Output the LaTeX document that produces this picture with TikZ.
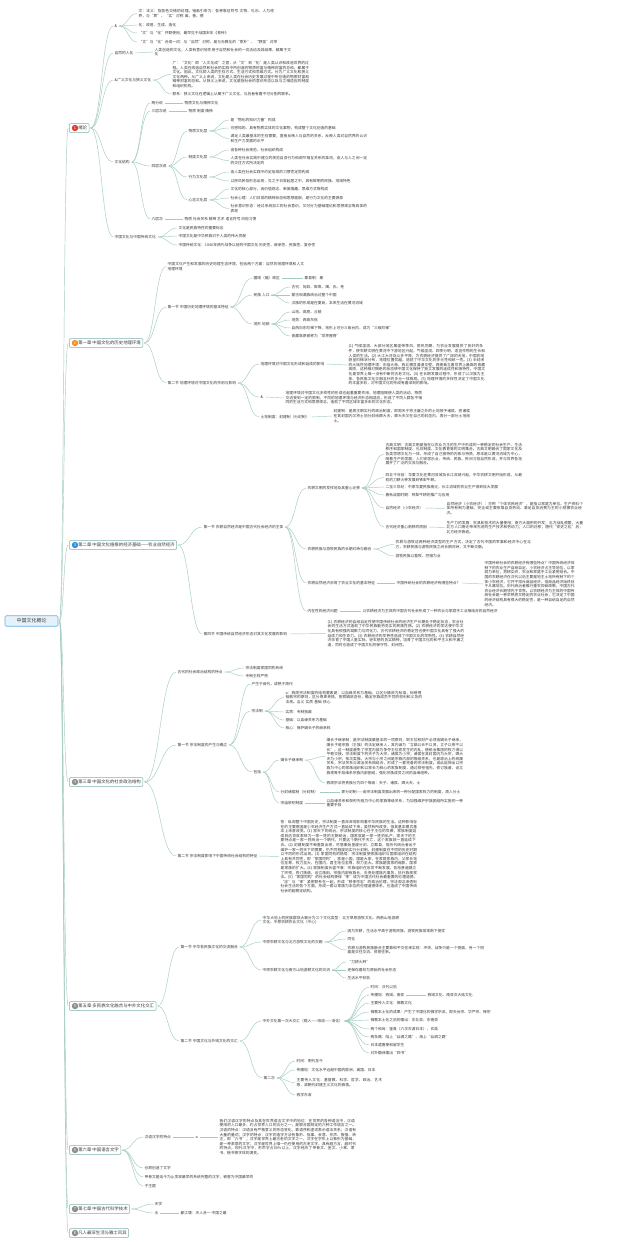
\documentclass[tikz,border=0pt]{standalone}
\usepackage{fontspec}
\setmainfont{Noto Sans CJK SC}
\usetikzlibrary{calc}
\XeTeXlinebreaklocale "zh"
\XeTeXlinebreakskip=0pt plus 0.5pt
\definecolor{txt}{HTML}{3A3A3A}
\definecolor{lnc}{HTML}{A3CBC3}
\definecolor{chb}{HTML}{7FB3AD}
\definecolor{icr}{HTML}{E2392C}
\definecolor{ico}{HTML}{F0902A}
\definecolor{icb}{HTML}{2F8FD8}
\definecolor{icg}{HTML}{8C8C8C}
\tikzset{
 tx/.style={font=\fontsize{3.75}{4.6}\selectfont, text=txt, anchor=west, inner sep=0.5pt},
 pp/.style={tx, text width=#1, align=left},
 pp/.default=137pt,
 ln/.style={draw=lnc, line width=0.45pt, shorten <=1.2pt, shorten >=0.8pt},
 chap/.style={draw=chb, fill=white, rounded corners=1pt, line width=0.55pt, font=\fontsize{4.4}{5}\selectfont, text=txt, anchor=west, inner xsep=2pt, inner ysep=2.3pt},
 ic/.style={circle, fill=#1, text=white, inner sep=0pt, minimum size=6.4pt, font=\fontsize{4}{4}\selectfont},
 rootb/.style={draw=icb!70, fill=icb!12, rounded corners=1.2pt, line width=0.6pt, font=\fontsize{5}{6}\selectfont, text=txt, minimum width=53pt, minimum height=10.5pt, inner sep=1pt}
}
\newcommand\lk[2]{\path ($(#1.east)!0.5!(#2.west)$) coordinate (lkm);
 \draw[ln] (#1.east) .. controls (lkm |- #1.east) and (lkm |- #2.west) .. (#2.west);}
\begin{document}
\begin{tikzpicture}[x=1pt,y=-1pt]
\useasboundingbox[fill=white] (0,0) rectangle (640,1245);

% root
\node[rootb] (r) at (31.5,621) {中国文化概论};

% chapters
\node[chap] (c0) at (69,128) {\hspace*{7pt}绪论};
\node[chap] (c1) at (69,343) {\hspace*{7pt}第一章 中国文化的历史地理环境};
\node[chap] (c2) at (69,545) {\hspace*{7pt}第二章 中国文化植根的经济基础——农业自然经济};
\node[chap] (c3) at (69,782) {\hspace*{7pt}第三章 中国文化的社会政治结构};
\node[chap] (c5) at (69,1006) {\hspace*{7pt}第五章 多民族文化融合与中外文化交汇};
\node[chap] (c6) at (69,1150) {\hspace*{7pt}第六章 中国语言文字};
\node[chap] (c7) at (69,1209) {\hspace*{7pt}第七章 中国古代科学技术};
\node[chap] (c8) at (69,1233) {\hspace*{7pt}凡人最深生活与雅士风异};
\node[ic=icr] (i0) at ($(c0.west)+(6,0)$) {1};
\node[ic=ico] (i1) at ($(c1.west)+(6,0)$) {2};
\node[ic=icb] (i2) at ($(c2.west)+(6,0)$) {3};
\node[ic=icg] (i3) at ($(c3.west)+(6,0)$) {4};
\node[ic=icg] (i5) at ($(c5.west)+(6,0)$) {5};
\node[ic=icg] (i6) at ($(c6.west)+(6,0)$) {6};
\node[ic=icg] (i7) at ($(c7.west)+(6,0)$) {7};
\node[ic=icg] (i8) at ($(c8.west)+(6,0)$) {8};
\foreach \c in {c0,c1,c2,c3,c5,c6,c7,c8} {\lk{r}{\c}}

% ===== 绪论 =====
\node[tx] (a0) at (114,26) {\&};
\node[pp] (a0a) at (138,13.5) {文：本义：指各色交错的纹理。错画引申为：各种象征符号 文物、礼乐、人为修养，与“质”、“实”对称 美、善、德};
\node[tx] (a0b) at (138,25) {化：改易、生成、造化};
\node[tx] (a0c) at (138,33) {“文”与“化”并联使用，最早见于战国末年《易传》};
\node[tx] (a0d) at (138,42) {“文”与“化”合成一词：与“自然”对称，是与无教化的“质朴”、“野蛮”对举};
\node[tx] (a1) at (114,53) {自然的人化};
\node[pp] (a1a) at (154,52) {人类创造的文化，人类有意识地作用于自然和社会的一切活动及其结果，都属于文化};
\node[tx] (a2) at (114,80) {\&广义文化与狭义文化};
\node[pp] (a2a) at (172,74.5) {广：“文化”即“人文化成”之意，从“文”到“化”是人类认识和改造世界的过程。人类在改造自然和社会的实践中所创造的物质财富与精神财富的总和，都属于文化。因此，文化即人类的生存方式、生活方式和思维方式。分为广义文化和狭义文化两种。从广义上来说，文化是人类在社会历史发展过程中所创造的物质财富和精神财富的总和。从狭义上来说，文化是指社会的意识形态以及与之相适应的制度和组织机构。};
\node[tx] (a2b) at (172,94) {联系：狭义文化在逻辑上从属于广义文化，与后者有着不可分割的联系。};
\node[tx] (a3) at (114,162) {文化结构};
\node[tx] (a31) at (151,103) {两分说};
\node[tx] (a31a) at (184,103) {物质文化与精神文化};
\node[tx] (a32) at (151,111) {三层次说};
\node[tx] (a32a) at (188,111) {物质 制度 精神};
\node[tx] (a33) at (151,166) {四层次说};
\node[tx] (a331) at (188,131) {物质文化层};
\node[tx] (a331a) at (230,120) {是“物化的知识力量”构成};
\node[tx] (a331b) at (230,128) {可感知的、具有物质实体的文化事物，构成整个文化创造的基础};
\node[pp] (a331c) at (230,138.5) {满足人类最基本的生存需要，直接反映人与自然的关系，反映人类对自然界的认识和生产力发展的水平};
\node[tx] (a332) at (188,157) {制度文化层};
\node[tx] (a332a) at (230,150) {由各种社会规范、社会组织构成};
\node[pp] (a332b) at (230,160.5) {人类在社会实践中建立的规范自身行为和调节相互关系的准则，由人与人之间一定的交往方式所决定的};
\node[tx] (a333) at (188,177) {行为文化层};
\node[tx] (a333a) at (230,172) {由人类在社会实践中约定俗成的习惯性定势构成};
\node[tx] (a333b) at (230,181) {以民风民俗形态出现，见之于日常起居之中，具有鲜明的民族、地域特色};
\node[tx] (a334) at (188,200) {心态文化层};
\node[tx] (a334a) at (230,189) {文化的核心部分，由价值观念、审美情趣、思维方式等构成};
\node[tx] (a334b) at (230,198) {社会心理：人们日常的精神状态和思想面貌，是行为文化的主要源泉};
\node[pp] (a334c) at (230,208.5) {社会意识形态：经过系统加工的社会意识，又可分为基础理论和思想观念等具体的表现};
\node[tx] (a34) at (151,219) {六层次};
\node[tx] (a34a) at (184,219) {物质 社会关系 精神 艺术 语言符号 风俗习惯};
\node[tx] (a4) at (114,237) {中国文化与中国传统文化};
\node[tx] (a4a) at (178,228) {文化是民族特性的重要标志};
\node[tx] (a4b) at (178,236) {中国文化是中华民族对于人类的伟大贡献};
\node[tx] (a4c) at (178,245) {中国传统文化：1840年鸦片战争以前的中国文化 历史性、继承性、民族性、复杂性};
\foreach \c in {a0,a1,a2,a3,a4} {\lk{c0}{\c}}
\foreach \c in {a0a,a0b,a0c,a0d} {\lk{a0}{\c}}
\lk{a1}{a1a}
\lk{a2}{a2a} \lk{a2}{a2b}
\foreach \c in {a31,a32,a33,a34} {\lk{a3}{\c}}
\lk{a31}{a31a} \lk{a32}{a32a} \lk{a34}{a34a}
\foreach \c in {a331,a332,a333,a334} {\lk{a33}{\c}}
\foreach \c in {a331a,a331b,a331c} {\lk{a331}{\c}}
\foreach \c in {a332a,a332b} {\lk{a332}{\c}}
\foreach \c in {a333a,a333b} {\lk{a333}{\c}}
\foreach \c in {a334a,a334b,a334c} {\lk{a334}{\c}}
\foreach \c in {a4a,a4b,a4c} {\lk{a4}{\c}}

% ===== 第一章 =====
\node[pp] (b0) at (167,266.5) {中国文化产生和发展的历史地理生态环境，包括两个方面：自然的地理环境和人文地理环境};
\node[tx] (b1) at (167,307) {第一节 中国历史地理环境的基本特征};
\node[tx] (b1a) at (253,278) {疆域（幅）政区};
\node[tx] (b1a1) at (304,278) {郡县制：秦};
\node[tx] (b1b) at (253,295) {民族 人口};
\node[tx] (b1b1) at (291,287) {古代：匈奴、鲜卑、羯、氐、羌};
\node[tx] (b1b2) at (291,295) {蒙古和满族统治过整个中国};
\node[tx] (b1b3) at (291,303) {汉族的形成是在夏商，本来生活在黄河流域};
\node[tx] (b1c) at (253,324) {地形 地貌};
\node[tx] (b1c1) at (291,312) {山地、高原、丘陵};
\node[tx] (b1c2) at (291,320) {地势：西高东低};
\node[tx] (b1c3) at (291,328) {自西向东阶梯下降，地形上可分三级台阶，成为“三级阶梯”};
\node[tx] (b1c4) at (291,336) {青藏高原被称为“世界屋脊”};
\node[tx] (b2) at (167,383) {第二节 地理环境对中国文化的作用与影响};
\node[tx] (b2a) at (260,364) {地理环境对中国文化形成和延续的影响};
\node[pp] (b2a1) at (348,365) {(1) 气候湿润、大部分地区属温带季风，雨热同期，为农业发展提供了良好的条件，使农耕文明在黄河中下游地区兴起，气候湿润、四季分明，适宜作物的生长和人类的生活。(2) 大江大河及众多平原，为农耕经济提供了广阔的天地，中国的地貌呈阶梯状分布，地理位置优越，造就了中华文化的多元性和统一性。(3) 半封闭的大陆性地理环境：东临大海，西北横亘漫漫戈壁，西南耸立着世界上最高的青藏高原，这种相对隔绝的状态使中国文化保持了独立发展的连续性和独特性，中国文化是世界上唯一没有中断的古老文化。(4) 在长期发展过程中，形成了以汉族为主体、各民族文化交融互补的多元一体格局。(5) 地理环境的多样性决定了中国文化的丰富多彩，对中国文化的形成有着深刻的影响。};
\node[tx] (b2b) at (260,397) {\&};
\node[pp] (b2b1) at (285,398) {地理环境对中国文化多样性的形成也起着重要作用，地理阻隔使人类的活动、物质交流受到一定的限制，不同的地理环境与经济形态相适应，形成了不同人群各不相同的生活方式和思想观念，造就了不同区域丰富多彩的文化形态。};
\node[tx] (b2c) at (260,417) {土地制度：封建制（分封制）};
\node[pp] (b2c1) at (333,416) {封建制：是周王朝实行的政治制度，即周天子将王畿之外的土地授予诸侯，而诸侯在其封国内又将土地分封给卿大夫，卿大夫又在自己的封邑内，再分一部分土地给士。};
\foreach \c in {b0,b1,b2} {\lk{c1}{\c}}
\foreach \c in {b1a,b1b,b1c} {\lk{b1}{\c}}
\lk{b1a}{b1a1}
\foreach \c in {b1b1,b1b2,b1b3} {\lk{b1b}{\c}}
\foreach \c in {b1c1,b1c2,b1c3,b1c4} {\lk{b1c}{\c}}
\foreach \c in {b2a,b2b,b2c} {\lk{b2}{\c}}
\lk{b2a}{b2a1} \lk{b2b}{b2b1} \lk{b2c}{b2c1}

% ===== 第二章 =====
\node[tx] (d1) at (203,527) {第一节 农耕自然经济是中国古代社会经济的主体};
\node[tx] (d1a) at (307,488) {农耕文明的发祥地及其重心迁移};
\node[pp] (d1a1) at (385,454) {古典文明：古典文明是指在以农业为主的生产中形成的一种稳定的社会生产、生活秩序和国家制度、礼仪制度、文化教育等的文明集合。古典文明融合了国家文化及各类思想文化为一体，形成了自己独特的内核与特质，原本是以黄河流域为中心，随着生产的发展，人们安居乐业，传统、民族、民间习俗自然形成，并与世界各地展开了广泛的交流与融合。};
\node[pp] (d1a2) at (385,477.5) {四五千年前：华夏文化在黄河流域及长江流域兴起，中华农耕文明开始形成，从最初的刀耕火种发展到铁犁牛耕。};
\node[tx] (d1a3) at (385,487) {二至三世纪：中原华夏民族南迁，长江流域的农业生产得到较大发展};
\node[tx] (d1a4) at (385,495) {春秋战国时期：铁犁牛耕的推广与应用};
\node[tx] (d1a5) at (385,508) {自然经济（小农经济）};
\node[pp] (d1a51) at (446,508.5) {自然经济（小农经济）：亦称“个体农民经济”，是指以家庭为单位、生产资料个体所有制为基础、完全或主要依靠自身劳动、满足自身消费为主的小规模农业经济。};
\node[tx] (d1a6) at (385,527) {古代经济重心南移的原因};
\node[pp] (d1a61) at (446,527.5) {生产力的发展：农具和技术的大量使用；南方大面积的开发；北方战乱频繁，大量北方人口南迁带来先进的生产技术和劳动力；人口的迁移；唐代“安史之乱”后，北方经济衰退。};
\node[tx] (d1b) at (307,549) {农耕民族与游牧民族的长期对峙与融合};
\node[pp] (d1b1) at (395,544.5) {农耕与游牧这两种经济类型的生产方式，决定了古代中国的军事和经济中心在北方，农耕民族与游牧民族之间长期对峙，又不断交融。};
\node[tx] (d1b2) at (395,556) {游牧民族以畜牧、狩猎为业};
\node[tx] (d1c) at (307,583) {农耕自然经济孕育了农业文化的基本特征};
\node[tx] (d1c1) at (396,583) {中国传统社会的农耕经济有哪些特点？};
\node[pp=90pt] (d1c2) at (484,584) {中国传统社会的农耕经济有哪些特点？中国传统经济体制下的农业生产自给自足，小农经济占主导地位，以家庭为单位，男耕女织，农业和家庭手工业紧密结合。中国的农耕经济在汉代以后主要是地主土地所有制下的个体小农经济，它并不排斥商品经济，但商品经济始终处于从属地位。历代统治者推行重农抑商政策，中国古代农业经济长期领先于世界。以农耕经济为主体的中国传统社会是一种早熟而又稳定的农业社会，它决定了中国的经济结构具有很大的稳定性，是一种自给自足的自然经济。};
\node[tx] (d1d) at (307,611) {内在性的经济问题};
\node[tx] (d1d1) at (362,611) {以农耕经济为主体的中国古代社会形成了一种农业与家庭手工业相结合的自然经济};
\node[tx] (d4) at (203,634) {第四节 中国传统自然经济形态对其文化发展的影响};
\node[pp] (d41) at (327,633.5) {(1) 农耕经济的自给自足性使中国传统社会的经济生产长期处于稳定状态，农业社会的生活方式造就了中华民族勤劳务实的民族性格。(2) 农耕经济的发达使中华文化具有很强的凝聚力与同化力，古代农耕经济的稳定性也使中国文化具有了强大的延续力和生命力。(3) 农耕经济的早熟性造成了中国文化的早熟性。(4) 农耕自然经济孕育了中国人重实际、轻玄想的务实精神，培育了中国文化的和平主义和中庸之道，同时也造成了中国文化的保守性、封闭性。};
\lk{c2}{d1} \lk{c2}{d4} \lk{d4}{d41}
\foreach \c in {d1a,d1b,d1c,d1d} {\lk{d1}{\c}}
\foreach \c in {d1a1,d1a2,d1a3,d1a4,d1a5,d1a6} {\lk{d1a}{\c}}
\lk{d1a5}{d1a51} \lk{d1a6}{d1a61}
\lk{d1b}{d1b1} \lk{d1b}{d1b2}
\lk{d1c}{d1c1} \lk{d1c1}{d1c2} \lk{d1d}{d1d1}

% ===== 第三章 =====
\node[tx] (e1) at (177,672) {古代的社会政治结构的特点};
\node[tx] (e1a) at (245,668) {宗法制度家国同构系统};
\node[tx] (e1b) at (245,676) {专制王权严密};
\node[tx] (e2) at (177,745) {第一节 宗法制度的产生与确立};
\node[tx] (e2a) at (251,684) {产生于商代，成熟于周代};
\node[tx] (e2b) at (251,711) {宗法制};
\node[pp] (e2b1) at (285,697.5) {a：西周宗法制度的结构要素是：以血缘关系为基础，以区分嫡庶为标准，标榜尊祖敬宗的原则，区分尊卑贵贱，按照嫡庶身份，确定宗族成员不同的权利和义务的法规。含义 实质 基础 核心};
\node[tx] (e2b2) at (285,712) {实质：专制独裁};
\node[tx] (e2b3) at (285,720) {基础：以血缘关系为基础};
\node[tx] (e2b4) at (285,728) {核心：保护嫡长子的继承权};
\node[tx] (e2c) at (253,772) {包括};
\node[tx] (e2c1) at (280,760) {嫡长子继承制};
\node[pp] (e2c11) at (326,756.5) {嫡长子继承制：是宗法制度最基本的一项原则，即王位和财产必须由嫡长子继承，嫡长子是宗族（王族）的法定继承人，其内涵为“立嫡以长不以贤，立子以贵不以长”，这一制度避免了宗室内部为争夺王位而发生的内乱，使统治集团的权力得以平稳交接。宗法制度下的天子为大宗，诸侯为小宗；诸侯在其封国内为大宗，卿大夫为小宗；依次类推，大宗与小宗之间是宗族内部的等级关系，也是政治上的统属关系，宗法关系与政治关系相结合，形成了一套完备的宗法制度。由此延伸出以宗族为中心的家族组织和以家长为核心的家族制度，通过祭祀祖先、修订族谱、设立族规等手段维系宗族内部团结，强化宗族成员之间的血缘纽带。};
\node[tx] (e2c12) at (326,783) {西周宗法将贵族分为四个等级：天子、诸侯、卿大夫、士};
\node[tx] (e2c2) at (280,792) {分封诸侯制（分封制）};
\node[tx] (e2c21) at (341,792) {即分封制——由宗法制度发展出来的一种分配国家权力的制度，周人分土};
\node[tx] (e2c3) at (280,803) {宗庙祭祀制度};
\node[pp] (e2c31) at (326,803) {以血缘关系和祭祀先祖为中心的家族等级关系，为加强维护宗族团结所实施的一种重要手段};
\node[tx] (e3) at (177,856) {第二节 宗法制度影响下中国传统社会结构的特征};
\node[pp] (e31) at (280,856.5) {答：纵观整个中国历史，宗法制度一直深深地影响着中华民族的生活。这种影响存在的主要原因是小农经济生产方式一直延续下来，虽然有所改变，但其基本模式基本上未曾改变。(1) 家天下的统治，宗法制度的核心在于王位的世袭，家族制度延续到后世就表现为一家一姓的王朝统治，国家就是一家一姓的私产，家天下的主要特点是一家一姓统治一个朝代，只要这个朝代不灭亡，这个家族就一直延续下去。(2) 封建制度不断重复出现，尽管秦始皇废分封、立郡县，但历代统治者出于维护一家一姓天下的需要，仍不同程度地实行分封制，封建制度在不同的历史时期以不同的形式出现。(3) 家国同构的格局：宗法制度使家族组织与国家组织在结构上具有共同性，即“家国同构”，家是小国，国是大家，在家庭家族内，父家长地位至尊，权力至大，在国内，君主地位至尊，权力至大。家族是国家的缩影，国家是家族的扩大。(4) 家族制度长盛不衰：宗族组织在后世不断发展，各地普遍建立了宗祠，修订族谱，设立族田，宗族内部有族长，负责处理族内事务，执行族规家法。(5)“家国同构”的社会结构使得“孝”成为中国古代社会最重要的伦理道德，“忠”与“孝”紧密联系在一起，形成“移孝作忠”的政治伦理，宗法观念渗透到社会生活的各个方面，形成一套以家族为本位的伦理道德体系，也造成了中国传统社会的超稳定结构。};
\foreach \c in {e1,e2,e3} {\lk{c3}{\c}}
\lk{e1}{e1a} \lk{e1}{e1b}
\foreach \c in {e2a,e2b,e2c} {\lk{e2}{\c}}
\foreach \c in {e2b1,e2b2,e2b3,e2b4} {\lk{e2b}{\c}}
\foreach \c in {e2c1,e2c2,e2c3} {\lk{e2c}{\c}}
\lk{e2c1}{e2c11} \lk{e2c1}{e2c12} \lk{e2c2}{e2c21} \lk{e2c3}{e2c31}
\lk{e3}{e31}

% ===== 第五章 =====
\node[tx] (f1) at (180,947) {第一节 中华各民族文化的交流融合};
\node[pp] (f1a) at (262,920) {中华大地上的民族群体大致分为三个文化类型：北方草原游牧文化、西南山地游耕文化、中原农耕农业文化（中心）};
\node[tx] (f1b) at (262,942) {中原农耕文化与北方游牧文化的交融};
\node[tx] (f1b1) at (347,931) {因为农耕，生活水平高于游牧民族，游牧民族常常南下侵扰};
\node[tx] (f1b2) at (347,939) {同化};
\node[pp] (f1b3) at (347,950) {农耕与游牧民族融合主要靠和平交往来实现：冲突、战争只是一个侧面，另一个侧面是交往交流、贸易往来。};
\node[tx] (f1c) at (262,970) {中原农耕文化与南方山地游耕文化的交流};
\node[tx] (f1c1) at (347,962) {“刀耕火种”};
\node[tx] (f1c2) at (347,970) {还保存着较为原始的社会形态};
\node[tx] (f1c3) at (347,978) {生活水平较低};
\node[tx] (f2) at (180,1041) {第二节 中国文化与外域文化的交汇};
\node[tx] (f2a) at (262,1021) {中外文化第一次大交汇（输入——吸收——消化）};
\node[tx] (f2a1) at (370,987) {时间：汉代以后};
\node[tx] (f2a2) at (370,995) {传播地：西域、南亚};
\node[tx] (f2a21) at (427,995) {西域文化、南亚次大陆文化};
\node[tx] (f2a3) at (370,1003) {主要传入文化：佛教文化};
\node[tx] (f2a4) at (370,1012) {佛教本土化的成果：产生了中国化的佛学宗派，即天台宗、华严宗、禅宗};
\node[tx] (f2a5) at (370,1020) {佛教本土化之后的输出：东北亚、东南亚};
\node[tx] (f2a6) at (370,1029) {两个和尚：鉴真（六次东渡日本）、玄奘};
\node[tx] (f2a7) at (370,1037) {两条路：陆上“丝绸之路”、海上“丝绸之路”};
\node[tx] (f2a8) at (370,1045) {日本遣唐使和留学生};
\node[tx] (f2a9) at (370,1053) {对外翻译输出“四书”};
\node[tx] (f2b) at (263,1078) {第二次};
\node[tx] (f2b1) at (296,1061) {时间：明代至今};
\node[tx] (f2b2) at (296,1070) {传播地：文化水平远超中国的欧洲、美国、日本};
\node[pp=88pt] (f2b3) at (296,1082.5) {主要传入文化：基督教、科学、哲学、政治、艺术等，清朝代封建主义文化的衰落。};
\node[tx] (f2b4) at (296,1095) {西学东渐};
\lk{c5}{f1} \lk{c5}{f2}
\foreach \c in {f1a,f1b,f1c} {\lk{f1}{\c}}
\foreach \c in {f1b1,f1b2,f1b3} {\lk{f1b}{\c}}
\foreach \c in {f1c1,f1c2,f1c3} {\lk{f1c}{\c}}
\lk{f2}{f2a} \lk{f2}{f2b}
\foreach \c in {f2a1,f2a2,f2a3,f2a4,f2a5,f2a6,f2a7,f2a8,f2a9} {\lk{f2a}{\c}}
\lk{f2a2}{f2a21}
\foreach \c in {f2b1,f2b2,f2b3,f2b4} {\lk{f2b}{\c}}

% ===== 第六章 =====
\node[tx] (g1) at (144,1137) {汉语汉字的特点};
\node[tx] (g1a) at (195,1137) {a};
\node[pp] (g1b) at (219,1137) {我们汉语汉字的特点及其在世界语言文字中的地位：在世界的各种语言中，汉语使用的人口最多，约占世界人口的五分之一，是联合国规定的六种工作语言之一。汉语的特点：汉语没有严格意义的形态变化，靠语序和虚词表示语法关系；汉语有大量的量词；汉字的特点：汉字的造字方法有象形、指事、会意、形声、假借、转注，即“六书”；汉字是世界上最古老的文字之一，汉字在字形上以象形为基础，是一种表意的文字；汉字是世界上唯一仍在使用的古老文字，具有超方言、超时代的特点，现代汉字中，形声字占80\%以上，汉字经历了甲骨文、金文、小篆、隶书、楷书等字体的演变。};
\node[tx] (g2) at (144,1168) {仓颉创造了文字};
\node[tx] (g3) at (144,1177) {甲骨文是迄今为止发现最早的系统完整的汉字，被誉为中国最早的};
\node[tx] (g4) at (144,1186) {子主题};
\foreach \c in {g1,g2,g3,g4} {\lk{c6}{\c}}
\lk{g1}{g1a} \lk{g1a}{g1b}

% ===== 第七章 =====
\node[tx] (h1) at (154,1204) {天学};
\node[tx] (h2) at (154,1213) {水};
\node[tx] (h21) at (180,1213) {都江堰：天人合一 中国之最};
\lk{c7}{h1} \lk{c7}{h2} \lk{h2}{h21}
\end{tikzpicture}
\end{document}
